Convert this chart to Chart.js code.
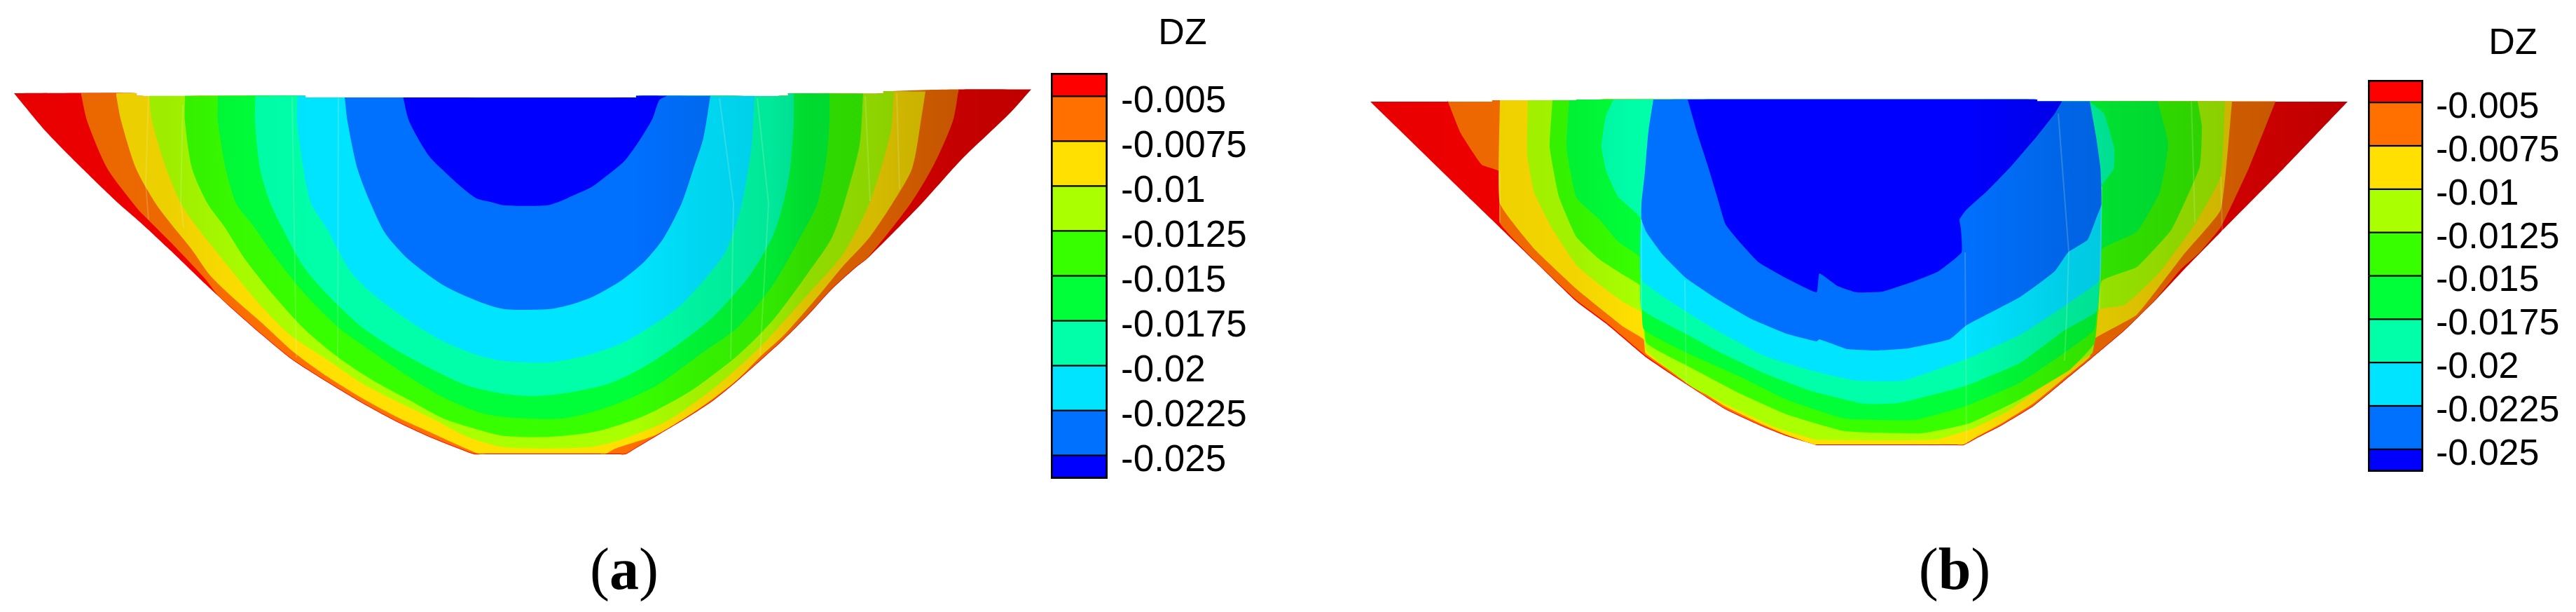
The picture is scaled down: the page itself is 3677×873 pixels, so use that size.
<!DOCTYPE html>
<html>
<head>
<meta charset="utf-8">
<style>
html,body{margin:0;padding:0;background:#fff;width:3677px;height:873px;overflow:hidden}
canvas{position:absolute;top:0;display:block}
.cap{position:absolute;top:762px;font-family:"Liberation Serif",serif;font-size:84px;line-height:100px;color:#000;transform:translateX(-50%)}
.cap b{font-weight:700}
</style>
<script src="https://cdn.jsdelivr.net/npm/chart.js@4/dist/chart.umd.min.js"></script>
</head>
<body>
<canvas id="plotA"></canvas><canvas id="barA"></canvas>
<canvas id="plotB"></canvas><canvas id="barB"></canvas>
<div class="cap" style="left:891px">(<b>a</b>)</div>
<div class="cap" style="left:2790px">(<b>b</b>)</div>
<script>
// colour bar
const tickLevels=[-0.005,-0.0075,-0.01,-0.0125,-0.015,-0.0175,-0.02,-0.0225,-0.025];
const tickLabels=["-0.005","-0.0075","-0.01","-0.0125","-0.015","-0.0175","-0.02","-0.0225","-0.025"];
const bandEdges=[-0.0037,-0.005,-0.0075,-0.01,-0.0125,-0.015,-0.0175,-0.02,-0.0225,-0.025,-0.0263];
const bandColors=["#ff0000","#ff7000","#ffe000","#aaff00","#38ff00","#00ff38","#00ffa8","#00e4ff","#0070ff","#0000ff"];

// panel (a): contour of each level (x along span, y depth)
const A_red=[[20,133],[65,187],[114,237],[169,290],[200,317],[243,357],[293,405],[333,442],[373,477],[417,513],[467,545],[517,575],[567,602],[617,625],[665,644],[677,648],[690,648],[880,648],[893,648],[905,641],[937,622],[987,592],[1020,570],[1053,543],[1087,513],[1120,483],[1153,450],[1187,413],[1220,383],[1240,367],[1316,290],[1373,227],[1440,163],[1472,127.5]];
const A_orange=[[115.5,133],[124.5,173],[153,240],[190,290],[200,302],[243,345],[293,398],[310,420],[333,441],[373,476],[417,512],[467,544],[517,574],[567,601],[617,624],[665,643],[677,647],[690,647],[880,647],[893,647],[905,640],[937,621],[987,591],[1020,569],[1053,542],[1087,512],[1120,482],[1153,449],[1187,412],[1220,382],[1240,366],[1300,290],[1334,233],[1360,173],[1368,130]];
const A_yellow=[[166,136.7],[173,173],[194,240],[222,290],[243,318],[273,355],[300,393],[333,425],[373,460],[420,503],[467,537],[517,568],[567,595],[617,618],[670,642],[683,647],[695,647],[855,647],[865,647],[878,640],[937,620],[987,590],[1020,567],[1053,541],[1087,507],[1120,477],[1170,420],[1203,380],[1240,340],[1274,290],[1302,240],[1316,163],[1321,130.5]];
const A_lime=[[213,136.7],[217,173],[237,240],[258,290],[273,313],[300,348],[367,430],[413,477],[467,513],[517,547],[567,573],[617,597],[667,623],[720,638],[840,638],[887,627],[953,600],[1020,553],[1087,493],[1153,420],[1203,363],[1241,290],[1271,190],[1276,130.5]];
const A_green=[[264,136.7],[264,173],[274,240],[296,290],[320,323],[350,370],[387,417],[433,468],[483,510],[533,543],[583,570],[633,597],[683,613],[720,622],[787,623],[853,615],[920,593],[987,557],[1053,507],[1103,457],[1153,390],[1187,340],[1205,290],[1227,207],[1232,133.5]];
const A_green2=[[311,136.7],[311,173],[322,240],[337,290],[360,320],[393,367],[433,417],[483,467],[533,503],[583,537],[633,567],[683,588],[720,595],[803,597],[870,580],[937,550],[1003,503],[1053,467],[1103,407],[1147,330],[1167,290],[1180,223],[1184,173],[1184,133.5]];
const A_teal=[[364.5,136.7],[364,173],[371,240],[386,290],[407,333],[433,380],[467,420],[517,467],[567,500],[617,527],[667,550],[720,562],[763,565],[813,560],[870,547],[920,523],[970,490],[1020,450],[1070,393],[1103,337],[1118,290],[1128,240],[1133,173],[1133,133.5]];
const A_cyan=[[424.5,136.7],[424,173],[433,240],[444,290],[467,327],[500,387],[533,420],[583,457],[633,487],[683,507],[720,515],[783,517],[837,507],[887,490],[927,467],[970,437],[1007,397],[1037,357],[1059,290],[1073,207],[1077,136.7]];
const A_blue=[[492,139],[496,173],[510,240],[529,290],[550,333],[583,370],[633,407],[683,430],[720,441],[783,441],[813,435],[847,423],[887,400],[920,373],[947,340],[973,290],[990,240],[1004,197],[1014,136.7]];
const A_dark=[[575.5,139],[584,173],[612,222],[640,250],[660,268],[680,283],[700,288],[720,293],[780,293],[800,287],[820,278],[844,267],[867,250],[891,230],[911,203],[931,170],[941,143],[952,136.7]];
const A_top=[[20,133],[195,136.7],[436,139],[908,136.7],[1125,133.5],[1261,130.5],[1368,127.5],[1472,127.5]];
const A_seams=[[[212,137],[208,263],[212,313]],[[261,150],[258,287],[262,325]],[[417,139],[423,510]],[[483,140],[482,517]],[[1027,140],[1047,290],[1043,513]],[[1081,140],[1097,290],[1085,507]],[[1235,137],[1242,287]],[[1280,133],[1284,270]]];
const A_shadeX=[20,240,340,450,900,1000,1100,1150,1250,1340,1472];
const A_shadeF=[.91,.93,.98,1,1,.94,.91,.86,.83,.78,.75];

// panel (b)
const B_red=[[1956,145],[2100,285],[2190,372],[2250,430],[2293,462],[2350,510],[2410,550],[2463,584],[2517,609],[2550,622],[2583,632],[2593,635],[2606,635],[2790,635],[2803,635],[2820,626],[2857,607],[2903,579],[2947,543],[2987,510],[3033,471],[3077,428],[3117,385],[3170,331],[3260,240],[3351,145]];
const B_orange=[[2066,143],[2085,190],[2115,235],[2141,245],[2141,318],[2190,371],[2250,428],[2293,460],[2350,508],[2410,549],[2463,583],[2517,608],[2550,621],[2583,631],[2593,634],[2606,634],[2790,634],[2803,634],[2820,625],[2857,606],[2903,578],[2947,542],[2987,509],[3033,470],[3077,427],[3113,384],[3140,360],[3170,324],[3210,240],[3248,145]];
const B_yellow=[[2141,143],[2141,290],[2190,355],[2250,412],[2283,439],[2317,466],[2346,484],[2349,504],[2410,546],[2463,580],[2517,606],[2550,620],[2580,631],[2590,634],[2603,634],[2790,634],[2803,634],[2820,624],[2857,604],[2903,575],[2947,539],[2983,509],[2990,483],[3050,449],[3117,363],[3170,299],[3186,145]];
const B_lime=[[2181,143],[2180,220],[2190,275],[2215,325],[2250,378],[2283,406],[2317,431],[2343,446],[2350,500],[2417,553],[2483,586],[2533,609],[2593,627],[2763,627],[2817,611],[2867,586],[2917,550],[2967,516],[2987,503],[2997,442],[3033,435],[3083,388],[3133,320],[3170,252],[3176,145]];
const B_green=[[2216,143],[2212,210],[2225,280],[2250,338],[2283,370],[2317,392],[2343,409],[2350,489],[2407,521],[2483,561],[2550,591],[2633,615],[2743,618],[2811,604],[2883,570],[2955,527],[2990,489],[3000,401],[3050,381],[3100,327],[3140,238],[3143,180],[3137,145]];
const B_green2=[[2240,142],[2236,210],[2250,282],[2283,313],[2310,345],[2343,369],[2346,469],[2407,503],[2483,537],[2550,570],[2633,597],[2733,599],[2807,579],[2883,546],[2947,503],[2990,469],[3000,356],[3050,331],[3083,274],[3095,205],[3080,145]];
const B_teal=[[2303,142],[2292,166],[2286,209],[2293,245],[2310,281],[2343,313],[2343,440],[2410,478],[2450,500],[2517,532],[2583,557],[2660,576],[2710,575],[2783,557],[2807,550],[2883,518],[2947,471],[2993,444],[2997,399],[3000,266],[3017,241],[3018,212],[3003,162],[2983,145]];
const B_cyan=[[2360,142],[2353,187],[2348,245],[2343,291],[2343,399],[2403,442],[2450,471],[2517,507],[2583,528],[2650,543],[2717,543],[2807,512],[2883,478],[2933,446],[2952,433],[2997,399],[3000,291],[2998,238],[2992,195],[2983,145]];
const B_blue=[[2360,142],[2353,187],[2348,245],[2343,291],[2343,313],[2350,331],[2373,363],[2407,397],[2450,426],[2500,455],[2550,476],[2593,487],[2597,484],[2637,498],[2677,500],[2723,497],[2783,484],[2807,464],[2883,424],[2933,387],[2952,360],[2980,342],[2993,309],[3000,291],[2998,238],[2992,195],[2983,145]];
const B_dark=[[2409,142],[2423,191],[2437,234],[2450,277],[2463,320],[2483,345],[2510,374],[2550,397],[2593,417],[2597,390],[2623,408],[2650,417],[2687,416],[2733,401],[2767,387],[2800,360],[2799,326],[2797,313],[2807,299],[2837,272],[2870,238],[2907,195],[2933,162],[2943,145]];
const B_top=[[1956,145],[2130,143],[2250,142],[2908,144.5],[3351,145]];
const B_seams=[[[2938,162],[2953,360],[2950,450],[2947,515]],[[3000,266],[2997,442]],[[2805,360],[2807,636]],[[3128,145],[3133,317]],[[2343,313],[2343,440]],[[2405,400],[2407,560]],[[2141,245],[2141,318]],[[3170,252],[3172,330]]];
const B_shadeX=[1956,2250,2343,2800,2950,3100,3200,3351];
const B_shadeF=[.91,.95,1,1,.9,.84,.8,.75];

const bandsA=[A_red,A_orange,A_yellow,A_lime,A_green,A_green2,A_teal,A_cyan,A_blue,A_dark];
const bandsB=[B_red,B_orange,B_yellow,B_lime,B_green,B_green2,B_teal,B_cyan,B_blue,B_dark];

Chart.defaults.animation=false;
Chart.defaults.responsive=false;
Chart.defaults.devicePixelRatio=1;

function topYAt(top,x){let y=top[0][1];for(const s of top){if(s[0]<=x)y=s[1];}return y;}
function polygon(c,top){
  const xl=c[0][0],xr=c[c.length-1][0];
  const pts=[{x:xl,y:topYAt(top,xl)}];
  c.forEach(p=>pts.push({x:p[0],y:p[1]}));
  pts.push({x:xr,y:topYAt(top,xr)});
  for(let i=top.length-1;i>=0;i--){
    const bx=top[i][0];
    if(bx>xl&&bx<xr){pts.push({x:bx,y:top[i][1]});pts.push({x:bx,y:top[i-1][1]});}
  }
  pts.push({x:xl,y:topYAt(top,xl)});
  return pts;
}
function shaded(hex,f){
  const n=parseInt(hex.slice(1),16);
  const r=Math.round((n>>16&255)*f),g=Math.round((n>>8&255)*f),b=Math.round((n&255)*f);
  return `rgb(${r},${g},${b})`;
}
function plot(id,left,width,xMin,bands,top,seams,sx,sf,smooth){
  const cv=document.getElementById(id);
  cv.style.left=left+'px';cv.width=width;cv.height=700;
  const ds=[];
  seams.forEach(s=>ds.push({data:s.map(p=>({x:p[0],y:p[1]})),showLine:true,tension:0,pointRadius:0,borderWidth:2,borderColor:'rgba(220,255,200,0.2)',fill:false}));
  for(let i=bands.length-1;i>=0;i--){
    const base=bandColors[i];
    ds.push({label:tickLabels[i]||'',data:polygon(bands[i],top),showLine:true,tension:smooth,pointRadius:0,borderWidth:0,fill:'shape',
      backgroundColor:(c)=>{
        const ch=c.chart;
        if(!ch.chartArea||!ch.scales.x)return base;
        const x0=ch.scales.x.getPixelForValue(sx[0]),x1=ch.scales.x.getPixelForValue(sx[sx.length-1]);
        const g=ch.ctx.createLinearGradient(x0,0,x1,0);
        sx.forEach((v,k)=>g.addColorStop((v-sx[0])/(sx[sx.length-1]-sx[0]),shaded(base,sf[k])));
        return g;
      }});
  }
  return new Chart(cv,{type:'scatter',data:{datasets:ds},options:{
    layout:{padding:0},
    plugins:{legend:{display:false},tooltip:{enabled:false},title:{display:false}},
    scales:{x:{type:'linear',display:false,min:xMin,max:xMin+width},y:{type:'linear',display:false,reverse:true,min:0,max:700}}
  }});
}
function colorbar(id,left,width,padL,axisW,titleTop,titleBottom,padBottom,labelOff,tickPad,fontSize){
  const cv=document.getElementById(id);
  cv.style.left=left+'px';cv.width=width;cv.height=700;
  const ds=bandColors.map((col,i)=>({
    label:'band'+i,
    data:[[bandEdges[i+1],bandEdges[i]]],
    backgroundColor:col,borderColor:'#000',borderSkipped:false,
    borderWidth:{left:3,right:3,top:i===0?3:1.5,bottom:i===bandColors.length-1?3:1.5},
    barPercentage:1,categoryPercentage:1
  }));
  return new Chart(cv,{type:'bar',data:{labels:['DZ'],datasets:ds},options:{
    layout:{padding:{left:padL,bottom:padBottom,top:0,right:0}},
    plugins:{legend:{display:false},tooltip:{enabled:false},
      title:{display:true,text:'DZ',color:'#000',align:'center',font:{family:'"Liberation Sans"',size:52,weight:'normal',lineHeight:1.2},padding:{top:titleTop,bottom:titleBottom}}},
    scales:{
      x:{display:false,stacked:true,offset:true},
      y:{position:'right',min:bandEdges[bandEdges.length-1],max:bandEdges[0],
        grid:{display:false,drawTicks:false},border:{display:false},
        afterBuildTicks:s=>{s.ticks=tickLevels.map(v=>({value:v}));},
        afterFit:s=>{s.width=axisW;s.paddingTop=0;s.paddingBottom=0;},
        ticks:{autoSkip:false,padding:tickPad,labelOffset:labelOff,color:'#000',maxRotation:0,
          font:{family:'"Liberation Sans"',size:fontSize},
          callback:(v)=>{const i=tickLevels.findIndex(t=>Math.abs(t-v)<1e-9);return i>=0?tickLabels[i]:'';}}
      }
    }
  }});
}
plot('plotA',0,1490,0,bandsA,A_top,A_seams,A_shadeX,A_shadeF,0.25);
plot('plotB',1900,1470,1900,bandsB,B_top,B_seams,B_shadeX,B_shadeF,0.12);
colorbar('barA',1490,386,10,295,17.8,23.8,17,8,19,53);
colorbar('barB',3370,424,10,335,31.8,19.8,27,7.5,18,52);
</script>
</body>
</html>
